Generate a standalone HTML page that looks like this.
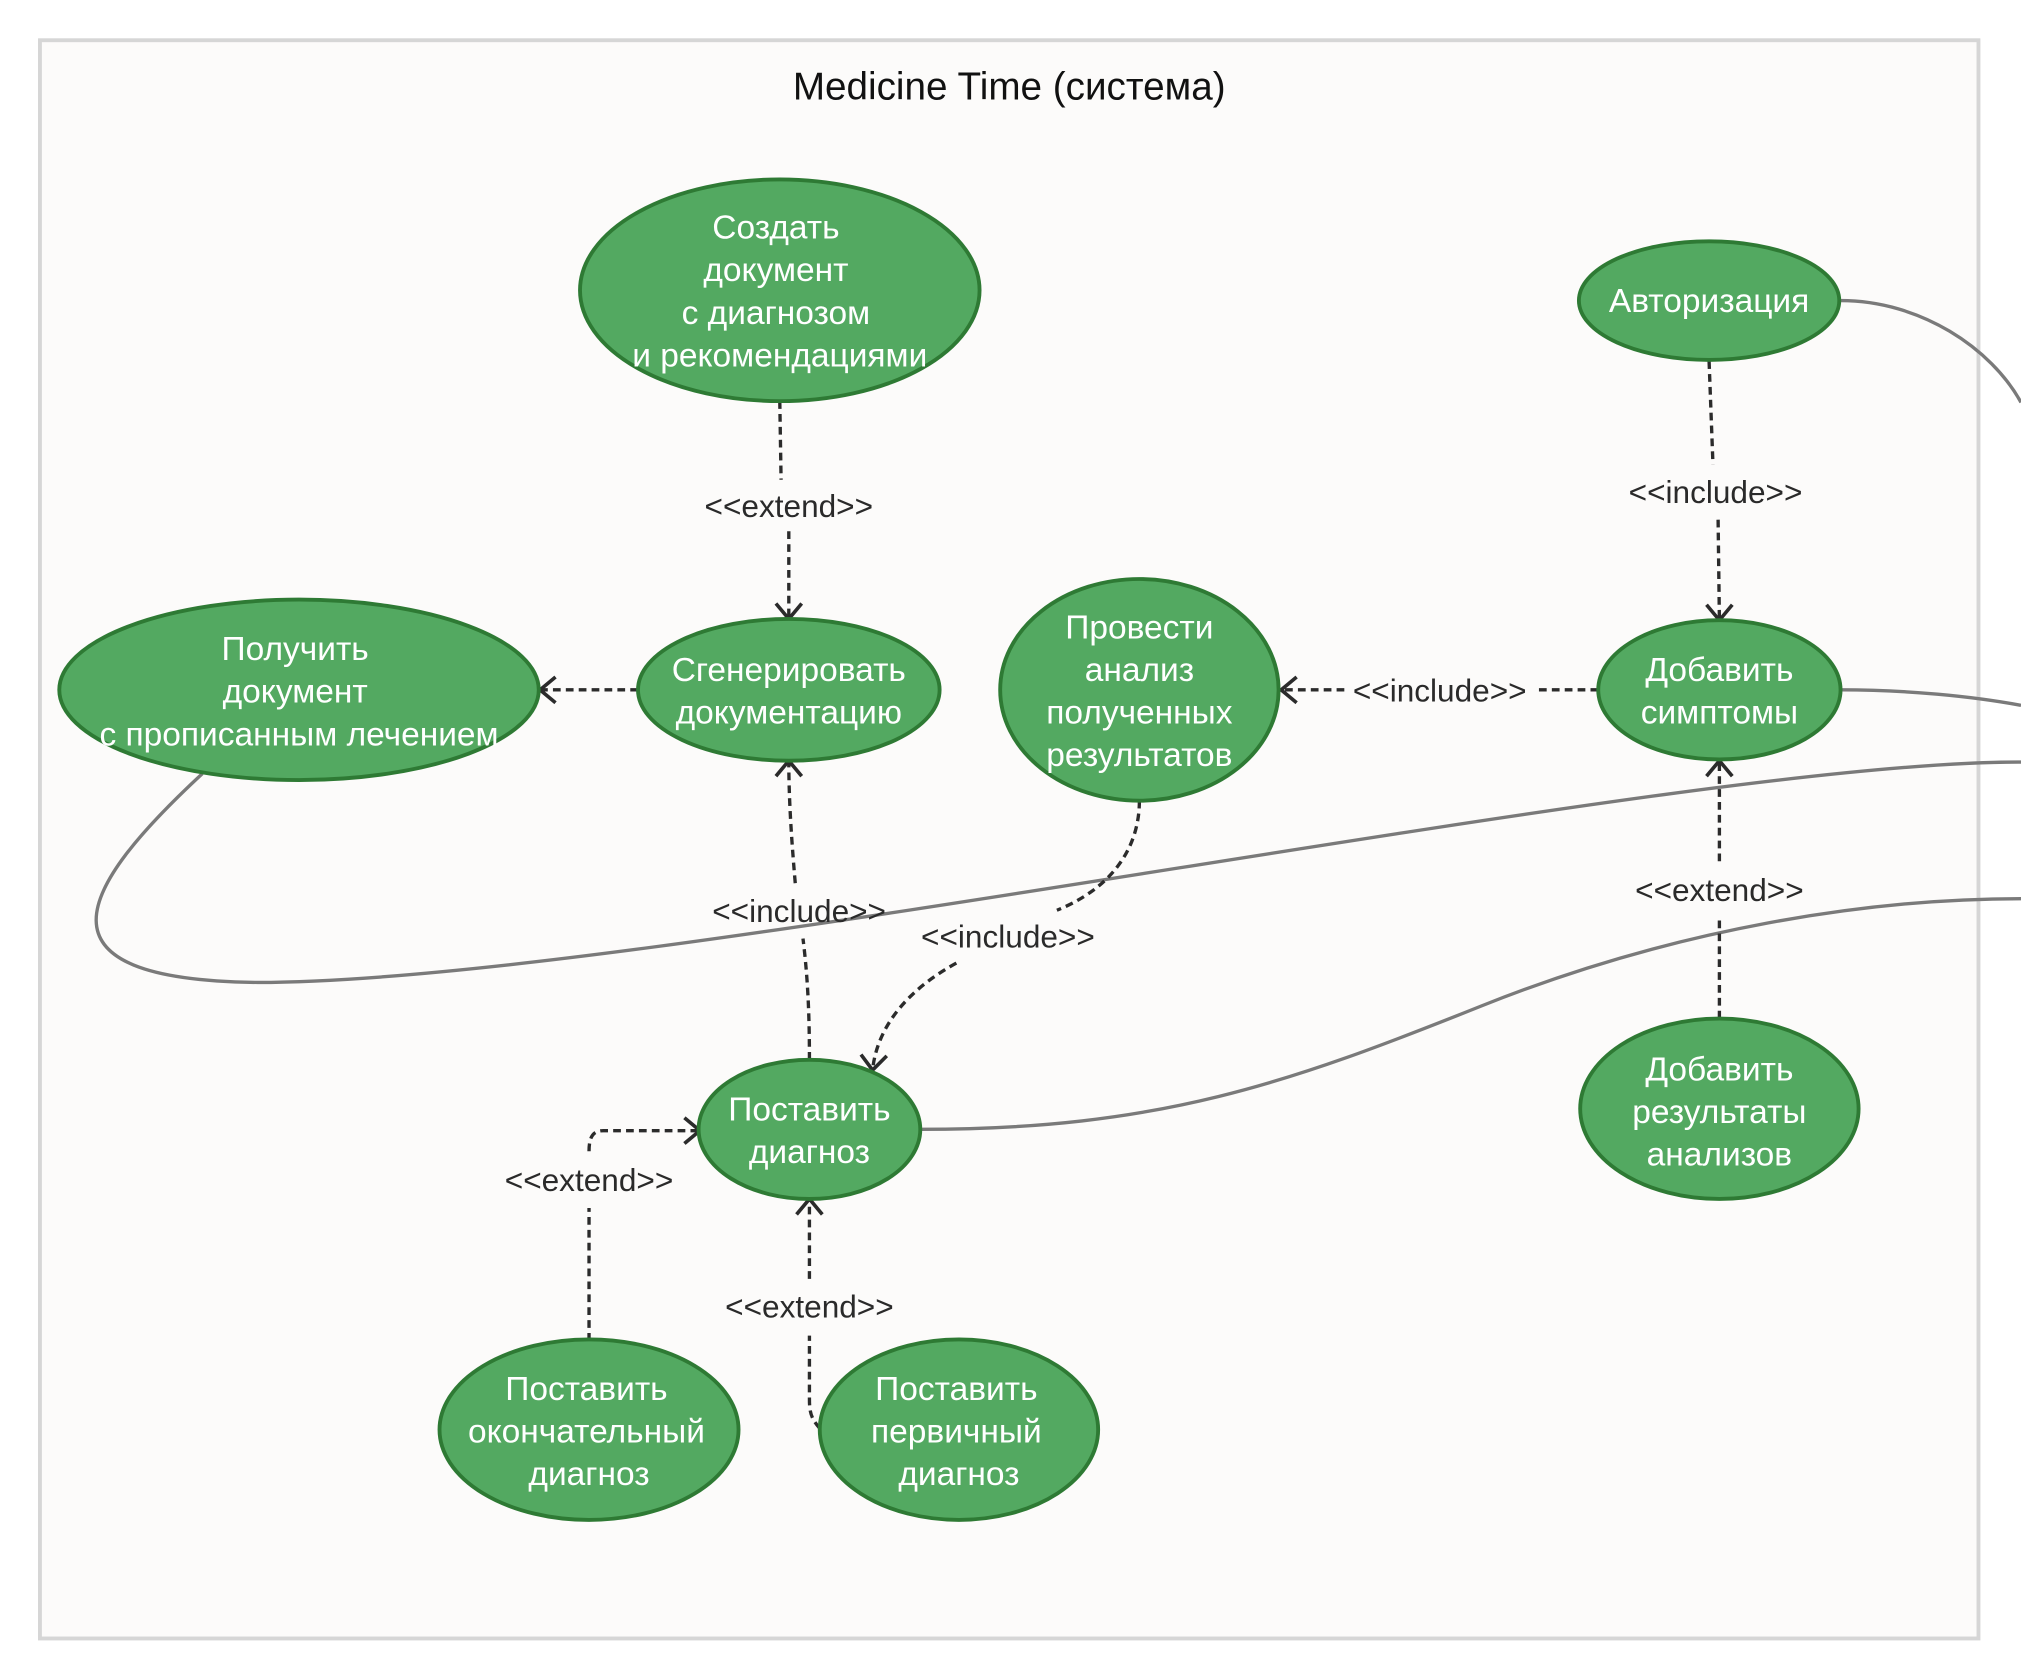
<!DOCTYPE html>
<html><head><meta charset="utf-8"><style>
html,body{margin:0;padding:0;background:#fff;}
svg{display:block;}
.n{fill:#53a961;stroke:#2e7a34;stroke-width:3;}
.t{fill:#fff;font-family:"Liberation Sans","DejaVu Sans",sans-serif;font-size:26px;text-anchor:middle;}
.l{fill:#2a2a2a;font-family:"Liberation Sans","DejaVu Sans",sans-serif;font-size:24.5px;text-anchor:middle;}
.d{fill:none;stroke:#2b2b2b;stroke-width:2.6;stroke-dasharray:6 4;}
.s{fill:none;stroke:#7a7a7a;stroke-width:2.6;}
.a{fill:none;stroke:#2b2b2b;stroke-width:2.8;}
</style></head><body>
<svg width="2021" height="1680" viewBox="0 0 1568 1303" xmlns="http://www.w3.org/2000/svg">
<rect x="0" y="0" width="1568" height="1303" fill="#fff"/>
<rect x="31" y="31" width="1504" height="1240" fill="#fcfbfa" stroke="#d6d6d6" stroke-width="3"/>
<text x="783" y="77" style="font-family:'Liberation Sans','DejaVu Sans',sans-serif;font-size:30px;text-anchor:middle;fill:#111">Medicine Time (система)</text>

<path class="s" d="M1428,233 C1490,233 1545,270 1568,312"/>
<path class="s" d="M1428,535 C1480,535 1530,540 1568,547"/>
<path class="s" d="M157,600 C60,690 20,760 200,762 C500,762 1300,590 1568,591"/>
<path class="s" d="M714,876 C900,876 1000,840 1150,780 C1300,720 1450,697 1568,697"/>

<path class="d" d="M605,311 L606,372"/>
<path class="d" d="M612,412 L612,480"/>
<path class="a" d="M602,468 L612,480 L622,468"/>
<text class="l" x="612" y="401">&lt;&lt;extend&gt;&gt;</text>

<path class="d" d="M495,535 L420,535"/>
<path class="a" d="M431,525 L419,535 L431,545"/>

<path class="d" d="M628,822 C628,790 627,760 623,728"/>
<path class="d" d="M617,685 C614,650 612,620 612,590"/>
<path class="a" d="M602,602 L612,590 L622,602"/>
<text class="l" x="620" y="715">&lt;&lt;include&gt;&gt;</text>

<path class="d" d="M884,621 C884,660 860,690 820,706"/>
<path class="d" d="M742,747 C700,770 680,800 677,830"/>
<path class="a" d="M668,818 L677,830 L688,819"/>
<text class="l" x="782" y="735">&lt;&lt;include&gt;&gt;</text>

<path class="d" d="M1240,535 L1192,535"/>
<path class="d" d="M1043,535 L994,535"/>
<path class="a" d="M1006,525 L994,535 L1006,545"/>
<text class="l" x="1117" y="544">&lt;&lt;include&gt;&gt;</text>

<path class="d" d="M1326,280 L1329,360"/>
<path class="d" d="M1333,403 L1334,481"/>
<path class="a" d="M1324,469 L1334,481 L1344,469"/>
<text class="l" x="1331" y="390">&lt;&lt;include&gt;&gt;</text>

<path class="d" d="M1334,790 L1334,712"/>
<path class="d" d="M1334,668 L1334,590"/>
<path class="a" d="M1324,602 L1334,590 L1344,602"/>
<text class="l" x="1334" y="699">&lt;&lt;extend&gt;&gt;</text>

<path class="d" d="M457,1040 L457,937"/>
<path class="d" d="M457,893 C457,882 460,877 468,877 L543,877"/>
<path class="a" d="M531,867 L543,877 L531,887"/>
<text class="l" x="457" y="924">&lt;&lt;extend&gt;&gt;</text>

<path class="d" d="M636,1108 C629,1100 628,1095 628,1085 L628,1036"/>
<path class="d" d="M628,992 L628,930"/>
<path class="a" d="M618,942 L628,930 L638,942"/>
<text class="l" x="628" y="1022">&lt;&lt;extend&gt;&gt;</text>

<ellipse class="n" cx="605" cy="225" rx="155" ry="86"/>
<text class="t" x="602" y="185">Создать</text>
<text class="t" x="602" y="218">документ</text>
<text class="t" x="602" y="251">с диагнозом</text>
<text class="t" x="605" y="284">и рекомендациями</text>

<ellipse class="n" cx="1326" cy="233" rx="101" ry="46"/>
<text class="t" x="1326" y="242">Авторизация</text>

<ellipse class="n" cx="232" cy="535" rx="186" ry="70"/>
<text class="t" x="229" y="512">Получить</text>
<text class="t" x="229" y="545">документ</text>
<text class="t" x="232" y="578">с прописанным лечением</text>

<ellipse class="n" cx="612" cy="535" rx="117" ry="55"/>
<text class="t" x="612" y="528">Сгенерировать</text>
<text class="t" x="612" y="561">документацию</text>

<ellipse class="n" cx="884" cy="535" rx="108" ry="86"/>
<text class="t" x="884" y="495">Провести</text>
<text class="t" x="884" y="528">анализ</text>
<text class="t" x="884" y="561">полученных</text>
<text class="t" x="884" y="594">результатов</text>

<ellipse class="n" cx="1334" cy="535" rx="94" ry="54"/>
<text class="t" x="1334" y="528">Добавить</text>
<text class="t" x="1334" y="561">симптомы</text>

<ellipse class="n" cx="628" cy="876" rx="86" ry="54"/>
<text class="t" x="628" y="869">Поставить</text>
<text class="t" x="628" y="902">диагноз</text>

<ellipse class="n" cx="1334" cy="860" rx="108" ry="70"/>
<text class="t" x="1334" y="838">Добавить</text>
<text class="t" x="1334" y="871">результаты</text>
<text class="t" x="1334" y="904">анализов</text>

<ellipse class="n" cx="457" cy="1109" rx="116" ry="70"/>
<text class="t" x="455" y="1086">Поставить</text>
<text class="t" x="455" y="1119">окончательный</text>
<text class="t" x="457" y="1152">диагноз</text>

<ellipse class="n" cx="744" cy="1109" rx="108" ry="70"/>
<text class="t" x="742" y="1086">Поставить</text>
<text class="t" x="742" y="1119">первичный</text>
<text class="t" x="744" y="1152">диагноз</text>
</svg>
</body></html>
